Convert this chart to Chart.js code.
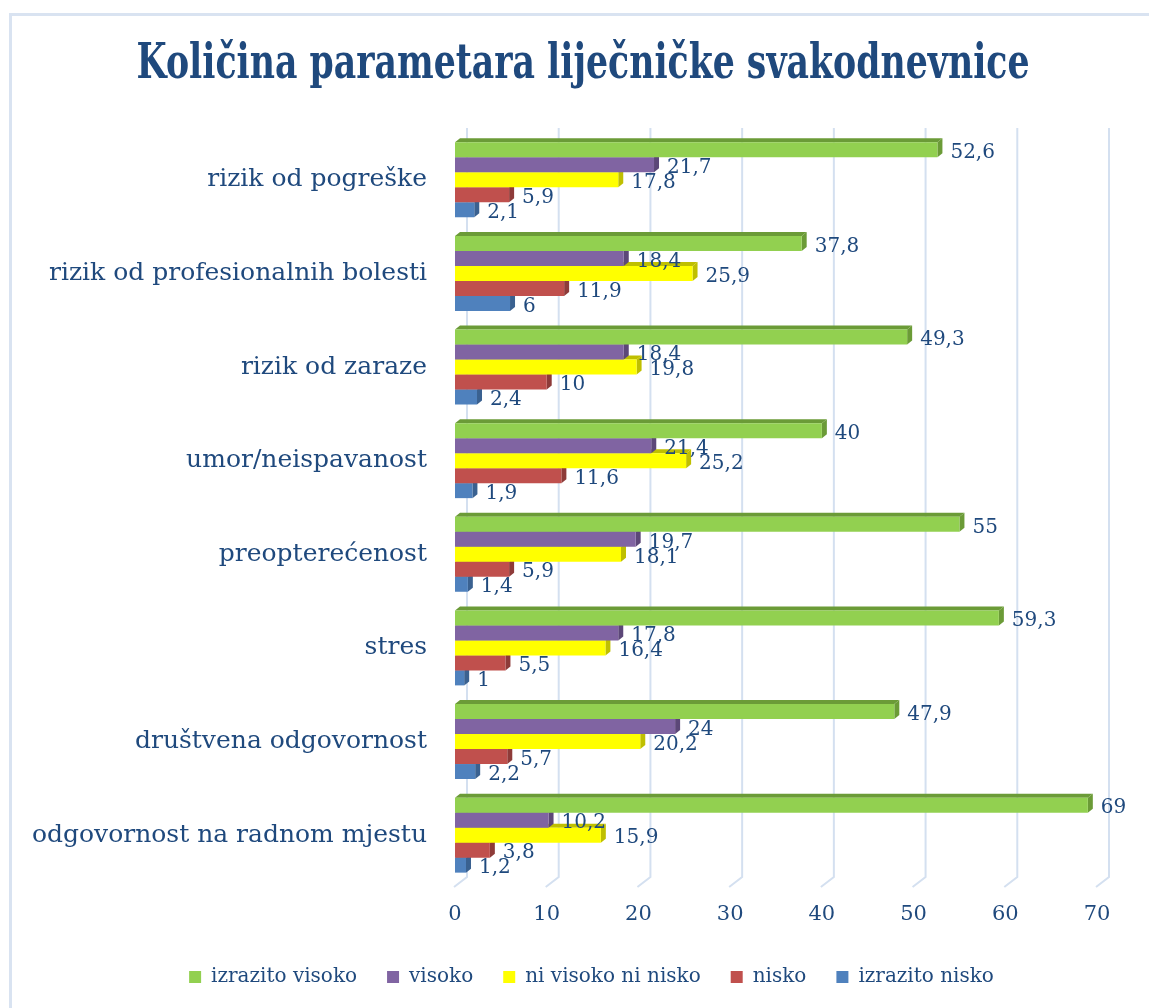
<!DOCTYPE html>
<html>
<head>
<meta charset="utf-8">
<script src="https://cdn.jsdelivr.net/npm/chart.js@4/dist/chart.umd.min.js"></script>
<style>
  body { margin: 0; background: #fff; }
  #frame { position: absolute; left: 9px; top: 13px; width: 1200px; height: 1100px;
           border-left: 3px solid #D9E3F1; border-top: 3px solid #D9E3F1; }
  #wrap { position: absolute; left: 0; top: 0; width: 1149px; height: 1008px; }
</style>
</head>
<body>
<div id="frame"></div>
<div id="wrap"><canvas id="myChart"></canvas></div>
<script>
// categories, top to bottom
const categories = [
  'rizik od pogreške',
  'rizik od profesionalnih bolesti',
  'rizik od zaraze',
  'umor/neispavanost',
  'preopterećenost',
  'stres',
  'društvena odgovornost',
  'odgovornost na radnom mjestu'
];
// series values (percent)
const izrazitoVisoko  = [52.6, 37.8, 49.3, 40, 55, 59.3, 47.9, 69];
const visoko          = [21.7, 18.4, 18.4, 21.4, 19.7, 17.8, 24, 10.2];
const niVisokoNiNisko = [17.8, 25.9, 19.8, 25.2, 18.1, 16.4, 20.2, 15.9];
const nisko           = [5.9, 11.9, 10, 11.6, 5.9, 5.5, 5.7, 3.8];
const izrazitoNisko   = [2.1, 6, 2.4, 1.9, 1.4, 1, 2.2, 1.2];
const seriesNames = ['izrazito visoko', 'visoko', 'ni visoko ni nisko', 'nisko', 'izrazito nisko'];
const xTicks = [0, 10, 20, 30, 40, 50, 60, 70];

const textColor = '#1F497D';
const frontColors = ['#92D050', '#8064A2', '#FFFF00', '#C0504D', '#4F81BD'];
const sideColors  = ['#6B9B37', '#5C4778', '#BFBF00', '#8E3B39', '#3A6190'];
const seriesData = [izrazitoVisoko, visoko, niVisokoNiNisko, nisko, izrazitoNisko];

// back-wall grid lines with the slanted floor part, plus 3d faces of the bars
const depthPlugin = {
  id: 'depth',
  afterLayout(chart) {
    // legend sits a bit right of the canvas centre in the original
    chart.legend.left += 38;
    chart.legend.right += 38;
  },
  beforeDatasetsDraw(chart) {
    const ctx = chart.ctx;
    const { top, bottom } = chart.chartArea;
    const x = chart.scales.x;
    ctx.save();
    ctx.strokeStyle = '#D4E0F0';
    ctx.lineWidth = 2;
    xTicks.forEach(v => {
      const px = x.getPixelForValue(v);
      ctx.beginPath();
      ctx.moveTo(px + 12, top - 5);
      ctx.lineTo(px + 12, bottom - 5);
      ctx.lineTo(px - 1, bottom + 5);
      ctx.stroke();
    });
    const d = 5, dy = 4;
    for (let i = chart.data.datasets.length - 1; i >= 0; i--) {
      const meta = chart.getDatasetMeta(i);
      ctx.fillStyle = sideColors[i];
      meta.data.forEach(el => {
        const p = el.getProps(['x', 'y', 'base', 'height'], true);
        const t = p.y - p.height / 2, b = p.y + p.height / 2;
        ctx.beginPath();
        ctx.moveTo(p.x, t);
        ctx.lineTo(p.x + d, t - dy);
        ctx.lineTo(p.x + d, b - dy);
        ctx.lineTo(p.x, b);
        ctx.closePath();
        ctx.fill();
        ctx.beginPath();
        ctx.moveTo(p.base, t);
        ctx.lineTo(p.base + d, t - dy);
        ctx.lineTo(p.x + d, t - dy);
        ctx.lineTo(p.x, t);
        ctx.closePath();
        ctx.fill();
      });
    }
    ctx.restore();
  },
  afterDatasetsDraw(chart) {
    const ctx = chart.ctx;
    ctx.save();
    ctx.font = '20px "DejaVu Serif"';
    ctx.fillStyle = textColor;
    ctx.textAlign = 'left';
    ctx.textBaseline = 'middle';
    chart.data.datasets.forEach((ds, i) => {
      chart.getDatasetMeta(i).data.forEach((el, j) => {
        const label = String(ds.data[j]).replace('.', ',');
        ctx.fillText(label, el.x + 13, el.y + 3);
      });
    });
    ctx.restore();
  },
  afterDraw(chart) {
    // condensed bold title
    const ctx = chart.ctx;
    const title = 'Količina parametara liječničke svakodnevnice';
    ctx.save();
    ctx.font = 'bold 49px "DejaVu Serif"';
    const w = ctx.measureText(title).width;
    ctx.translate(583, 78);
    ctx.scale(893 / w, 1);
    ctx.fillStyle = textColor;
    ctx.textAlign = 'center';
    ctx.textBaseline = 'alphabetic';
    ctx.fillText(title, 0, 0);
    ctx.restore();
  }
};

const ctx = document.getElementById('myChart').getContext('2d');
const myChart = new Chart(ctx, {
  type: 'bar',
  data: {
    labels: categories,
    datasets: seriesData.map((vals, i) => ({
      label: seriesNames[i],
      data: vals,
      backgroundColor: frontColors[i],
      borderWidth: 0,
      barPercentage: 1,
      categoryPercentage: 0.8
    }))
  },
  options: {
    indexAxis: 'y',
    responsive: true,
    maintainAspectRatio: false,
    animation: false,
    layout: { padding: { top: 133, left: 10, right: 52, bottom: 11 } },
    scales: {
      x: {
        min: 0, max: 70,
        ticks: { stepSize: 10, padding: 20, color: textColor, font: { family: '"DejaVu Serif"', size: 21 } },
        grid: { display: false, drawTicks: false },
        border: { display: false },
        afterFit(scale) { scale.height = 55; }
      },
      y: {
        ticks: { padding: 28, color: textColor, font: { family: '"DejaVu Serif"', size: 25 } },
        grid: { display: false, drawTicks: false },
        border: { display: false },
        afterFit(scale) { scale.width = 445; }
      }
    },
    plugins: {
      title: { display: false },
      tooltip: { enabled: false },
      legend: {
        position: 'bottom',
        labels: {
          boxWidth: 12, boxHeight: 12, padding: 30,
          color: textColor,
          font: { family: '"DejaVu Serif"', size: 20 }
        }
      }
    }
  },
  plugins: [depthPlugin]
});
</script>
</body>
</html>
